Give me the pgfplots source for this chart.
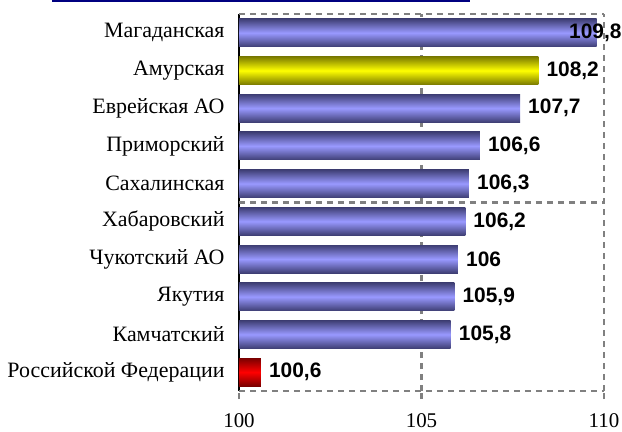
\documentclass[border=0pt]{standalone}
\usepackage{pgfplots}
\pgfplotsset{compat=1.18}
\usepackage{fontspec}
\setmainfont{Liberation Serif}
\newfontfamily\arial{Liberation Sans}
\definecolor{bluemid}{HTML}{9999FF}
\definecolor{blueedge}{HTML}{3E3E74}
\definecolor{yelmid}{HTML}{FFFF00}
\definecolor{yeledge}{HTML}{7A7A00}
\definecolor{redmid}{HTML}{FF0000}
\definecolor{rededge}{HTML}{7A0000}
\definecolor{gridgray}{HTML}{808080}
\definecolor{titlenavy}{HTML}{000080}
\pgfplotsset{
  bluebar/.style={draw=none, top color=blueedge, bottom color=blueedge, middle color=bluemid},
  yelbar/.style={draw=none, top color=yeledge, bottom color=yeledge, middle color=yelmid},
  redbar/.style={draw=none, top color=rededge, bottom color=rededge, middle color=redmid},
}
\begin{document}
\begin{tikzpicture}
\begin{axis}[
  scale only axis, width=365bp, height=377bp,
  xmin=100, xmax=110, ymin=-0.5, ymax=9.5,
  xbar, bar width=28bp, bar shift=0pt,
  axis x line*=bottom, axis y line*=left,
  x axis line style={draw=none},
  y axis line style={black, line width=1.4bp, -},
  tick align=outside,
  xtick={100,105,110},
  xmajorgrids,
  grid style={draw=gridgray, dash pattern=on 6bp off 5bp, line width=2.3bp},
  x tick style={draw=gridgray, dash pattern=on 6bp off 5bp, line width=2.3bp},
  major tick length=8bp,
  ytick={0,...,9},
  yticklabels={Российской Федерации, Камчатский, Якутия, Чукотский АО, Хабаровский, Сахалинская, Приморский, Еврейская АО, Амурская, Магаданская},
  y tick style={draw=none},
  extra y ticks={-0.5,4.5,9.5},
  extra y tick labels={},
  extra y tick style={grid=major, tick style={draw=black, solid, line width=1.4bp}, major tick length=6bp},
  tick label style={font=\fontsize{21}{21}\selectfont},
  yticklabel style={font=\fontsize{22}{22}\selectfont, xshift=-3bp},
  xticklabel style={yshift=-11bp},
  /pgf/number format/assume math mode=true,
  /pgf/number format/use comma,
  nodes near coords,
  every node near coord/.append style={font=\arial\bfseries\fontsize{21}{21}\selectfont, anchor=west, inner sep=0pt, xshift=8bp, text=black},
]
\addplot[bluebar, every node near coord/.append style={anchor=east, xshift=17bp}]
  coordinates {(109.8,9)};
\addplot[yelbar] coordinates {(108.2,8)};
\addplot[bluebar] coordinates {(107.7,7)};
\addplot[bluebar] coordinates {(106.6,6)};
\addplot[bluebar] coordinates {(106.3,5)};
\addplot[bluebar] coordinates {(106.2,4)};
\addplot[bluebar] coordinates {(106,3)};
\addplot[bluebar] coordinates {(105.9,2)};
\addplot[bluebar] coordinates {(105.8,1)};
\addplot[redbar] coordinates {(100.6,0)};
\end{axis}
\draw[titlenavy, line width=2.5bp] (-187bp,390bp) -- (231bp,390bp);
\pgfresetboundingbox
\path[use as bounding box] (-239bp,-41bp) rectangle (383bp,391bp);
\end{tikzpicture}
\end{document}
